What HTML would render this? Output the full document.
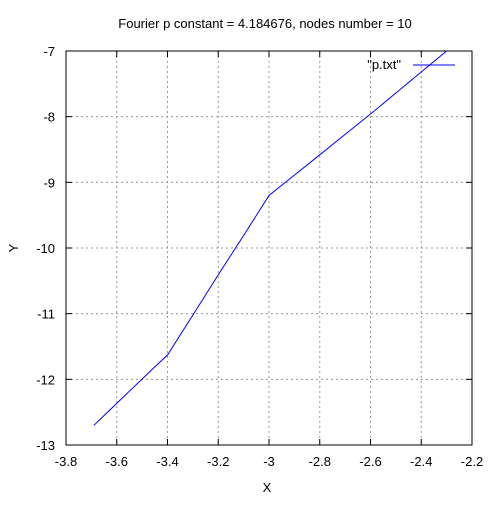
<!DOCTYPE html>
<html><head><meta charset="utf-8"><style>
body{margin:0;background:#fff}
svg text{font-family:"Liberation Sans","DejaVu Sans",sans-serif;font-size:13px;fill:#000}
</style></head><body>
<svg id="chart" width="500" height="500" xmlns="http://www.w3.org/2000/svg">
<rect width="500" height="500" fill="#fff"/>
<text x="265" y="28" text-anchor="middle">Fourier p constant = 4.184676,  nodes number = 10</text>
<g id="grid"></g>
<g id="ticks"></g>
<rect x="66" y="51" width="406" height="394" fill="none" stroke="#000" stroke-width="1"/>
<text x="267" y="492" text-anchor="middle">X</text>
<text x="18" y="248" text-anchor="middle" transform="rotate(-90 18 248)">Y</text>
<g>
<text x="401" y="69" text-anchor="end">"p.txt"</text>
<line x1="413" y1="65" x2="455" y2="65" stroke="#0000ff"/>
</g>
<polyline id="series" fill="none" stroke="#0000ff" stroke-width="1"/>
</svg>
<script>
const xTicks=[-3.8,-3.6,-3.4,-3.2,-3,-2.8,-2.6,-2.4,-2.2];
const xTickLabels=["-3.8","-3.6","-3.4","-3.2","-3","-2.8","-2.6","-2.4","-2.2"];
const yTicks=[-13,-12,-11,-10,-9,-8,-7];
const yTickLabels=["-13","-12","-11","-10","-9","-8","-7"];
const xValues=[-3.69,-3.65,-3.55,-3.45,-3.40,-3.30,-3.20,-3.10,-3.00,-2.90,-2.80,-2.70,-2.60,-2.50,-2.40,-2.30];
const yValues=[-12.70,-12.55,-12.18,-11.81,-11.63,-11.02,-10.41,-9.81,-9.20,-8.89,-8.58,-8.27,-7.96,-7.64,-7.32,-7.00];
const L=66,R=472,T=51,B=445;
const sx=v=>L+(v+3.8)/1.6*(R-L);
const sy=v=>B-(v+13)/6*(B-T);
const NS="http://www.w3.org/2000/svg";
const grid=document.getElementById('grid'),ticks=document.getElementById('ticks');
function mk(tag,attrs,parent){const e=document.createElementNS(NS,tag);for(const k in attrs)e.setAttribute(k,attrs[k]);parent.appendChild(e);return e;}
xTicks.forEach((v,i)=>{const x=sx(v);
 if(i>0&&i<xTicks.length-1){const g=mk('line',{x1:x,y1:T,x2:x,y2:B,stroke:'#999','stroke-dasharray':'2,3'},grid);
 
 }
 const t1=mk('line',{x1:x,y1:B,x2:x,y2:B-6,stroke:'#000'},ticks);
 
 
 const t2=mk('line',{x1:x,y1:T,x2:x,y2:T+6,stroke:'#000'},ticks);
 
 
 const tx=mk('text',{x:x,y:466,'text-anchor':'middle'},ticks);tx.textContent=xTickLabels[i];
 
 
});
yTicks.forEach((v,i)=>{const y=sy(v);
 if(i>0&&i<yTicks.length-1){const g=mk('line',{x1:L,y1:y,x2:R,y2:y,stroke:'#999','stroke-dasharray':'2,3'},grid);
 
 }
 const t1=mk('line',{x1:L,y1:y,x2:L+6,y2:y,stroke:'#000'},ticks);
 
 
 const t2=mk('line',{x1:R,y1:y,x2:R-6,y2:y,stroke:'#000'},ticks);
 
 
 const tx=mk('text',{x:55,y:y+5,'text-anchor':'end'},ticks);tx.textContent=yTickLabels[i];
 
 
});
document.getElementById('series').setAttribute('points',xValues.map((v,i)=>sx(v).toFixed(1)+','+sy(yValues[i]).toFixed(1)).join(' '));
</script>
</body></html>
